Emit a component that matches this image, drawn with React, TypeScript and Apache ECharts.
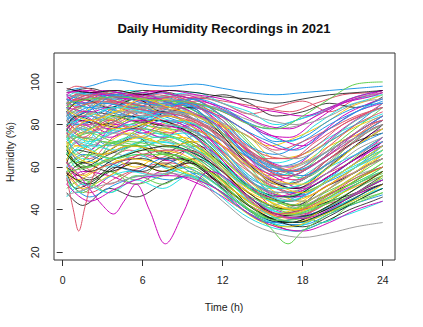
import React, { useEffect, useRef } from "react";
import * as echarts from "echarts";

const HOURS_A = [0.3, 2, 4, 6, 8, 10, 12, 14, 16, 18, 20, 22, 24];
const HOURS_B = [0.3, 1, 3, 5, 7, 9, 11, 13, 15, 17, 19, 21, 23, 24];
const HOURS_C = [0.3, 1.5, 3.5, 5.5, 7.5, 9.5, 11.5, 13.5, 15.5, 17.5, 19.5, 21.5, 23.2, 24];
const X_TICKS = [0, 6, 12, 18, 24];
const Y_TICKS = [20, 40, 60, 80, 100];
const PALETTE = ["#000000", "#DF536B", "#61D04F", "#2297E6", "#28E2E5", "#CD0BBC", "#F5C710", "#9E9E9E"];

const DAYS_A = [
  [92, 96, 90, 94, 88, 93, 90, 85, 88, 91, 86, 92, 95],
  [85, 78, 88, 84, 91, 86, 80, 70, 62, 66, 74, 80, 85],
  [70, 55, 66, 72, 68, 75, 70, 58, 45, 42, 50, 60, 66],
  [88, 93, 95, 91, 94, 89, 84, 72, 60, 55, 62, 73, 80],
  [62, 50, 58, 66, 63, 70, 64, 52, 40, 38, 46, 52, 58],
  [95, 97, 94, 96, 95, 92, 94, 90, 84, 86, 90, 88, 93],
  [78, 84, 80, 86, 83, 78, 68, 55, 50, 47, 55, 64, 70],
  [82, 72, 85, 90, 87, 85, 79, 66, 58, 62, 70, 75, 82],
  [58, 48, 55, 60, 62, 58, 52, 44, 36, 34, 40, 46, 52],
  [90, 88, 92, 87, 85, 88, 76, 64, 56, 60, 72, 82, 88],
  [74, 80, 77, 82, 78, 74, 60, 48, 40, 42, 48, 56, 60],
  [66, 60, 72, 70, 74, 68, 62, 50, 44, 40, 44, 52, 57],
  [93, 90, 95, 93, 91, 90, 86, 80, 74, 70, 78, 86, 90],
  [80, 86, 84, 81, 86, 82, 74, 62, 52, 54, 64, 72, 76],
  [54, 46, 52, 56, 54, 57, 50, 40, 34, 33, 38, 43, 47],
  [87, 92, 86, 90, 92, 86, 80, 74, 64, 66, 72, 79, 84],
  [72, 64, 75, 78, 76, 80, 72, 58, 50, 46, 52, 58, 64],
  [96, 94, 96, 92, 94, 95, 90, 86, 80, 83, 88, 92, 94],
  [68, 74, 70, 76, 72, 68, 58, 46, 38, 36, 42, 50, 56],
  [84, 90, 93, 88, 90, 86, 75, 60, 50, 52, 60, 70, 78],
  [76, 68, 80, 76, 82, 76, 70, 62, 55, 50, 56, 64, 72],
  [60, 54, 62, 64, 60, 64, 56, 46, 38, 40, 44, 48, 54],
  [91, 95, 92, 95, 90, 88, 82, 70, 66, 72, 80, 86, 91],
  [79, 85, 82, 88, 84, 80, 70, 58, 48, 44, 50, 58, 68],
  [86, 80, 88, 84, 88, 82, 76, 68, 60, 56, 64, 74, 82],
  [64, 70, 68, 72, 70, 66, 56, 44, 36, 34, 40, 46, 52],
  [94, 92, 90, 93, 92, 90, 87, 82, 78, 80, 84, 90, 92],
  [73, 78, 84, 80, 78, 76, 66, 54, 46, 48, 54, 62, 68],
  [88, 86, 90, 94, 90, 85, 78, 64, 54, 58, 66, 76, 84],
  [57, 52, 60, 58, 64, 62, 54, 42, 35, 32, 37, 44, 50],
  [82, 88, 85, 83, 86, 84, 76, 66, 60, 56, 62, 70, 76],
  [69, 62, 70, 74, 70, 72, 64, 52, 42, 40, 46, 54, 60],
  [90, 93, 96, 92, 88, 91, 84, 76, 68, 72, 78, 84, 88],
  [77, 72, 78, 84, 80, 76, 62, 50, 44, 46, 54, 60, 66],
  [85, 90, 88, 90, 87, 82, 72, 58, 48, 50, 58, 68, 74],
  [61, 66, 64, 68, 66, 62, 52, 42, 35, 36, 42, 48, 55],
  [95, 96, 93, 95, 96, 94, 92, 88, 86, 84, 88, 93, 96],
  [74, 82, 78, 80, 84, 78, 70, 60, 52, 48, 54, 62, 70],
  [83, 76, 82, 88, 86, 84, 78, 68, 60, 62, 68, 74, 80],
  [66, 58, 64, 68, 70, 66, 58, 46, 38, 37, 42, 50, 58],
  [89, 94, 91, 89, 93, 90, 82, 68, 58, 60, 70, 80, 86],
  [71, 76, 72, 78, 75, 70, 60, 50, 44, 42, 46, 54, 62],
  [92, 88, 94, 90, 89, 92, 88, 80, 72, 74, 82, 88, 90],
  [80, 84, 88, 86, 82, 80, 68, 56, 50, 52, 60, 66, 72],
  [52, 44, 50, 55, 56, 54, 48, 38, 32, 30, 34, 40, 44],
  [87, 82, 86, 92, 88, 84, 76, 62, 54, 52, 60, 70, 78],
  [75, 70, 76, 74, 80, 76, 66, 54, 46, 44, 50, 58, 64],
  [97, 95, 96, 94, 96, 95, 93, 92, 90, 92, 94, 95, 96],
];

const DAYS_B = [
  [90, 84, 92, 88, 93, 90, 86, 74, 62, 56, 62, 72, 80, 84],
  [76, 70, 80, 84, 80, 82, 74, 60, 48, 42, 48, 56, 64, 68],
  [64, 56, 62, 68, 64, 68, 60, 50, 40, 36, 40, 48, 54, 58],
  [93, 95, 92, 96, 93, 90, 88, 84, 76, 72, 80, 88, 92, 94],
  [82, 86, 84, 80, 86, 82, 76, 62, 52, 50, 56, 66, 74, 78],
  [70, 60, 72, 70, 76, 72, 66, 56, 46, 40, 44, 52, 60, 64],
  [88, 92, 95, 90, 88, 92, 84, 72, 64, 60, 68, 78, 86, 88],
  [58, 50, 56, 62, 60, 64, 56, 46, 38, 34, 38, 44, 50, 52],
  [84, 78, 86, 90, 86, 84, 80, 70, 60, 58, 64, 72, 80, 82],
  [74, 80, 76, 82, 78, 74, 64, 52, 44, 40, 46, 54, 62, 66],
  [96, 98, 95, 94, 96, 93, 92, 90, 88, 86, 90, 94, 95, 96],
  [66, 72, 70, 74, 72, 70, 62, 50, 42, 38, 42, 50, 56, 60],
  [86, 90, 88, 86, 91, 88, 80, 66, 56, 52, 58, 68, 78, 82],
  [78, 66, 76, 80, 82, 78, 70, 58, 50, 46, 52, 60, 70, 74],
  [92, 88, 94, 92, 90, 89, 86, 80, 72, 68, 74, 84, 90, 92],
  [62, 68, 66, 70, 68, 64, 56, 44, 36, 34, 38, 44, 52, 56],
  [80, 84, 88, 84, 82, 80, 72, 60, 50, 48, 54, 62, 70, 74],
  [72, 62, 70, 76, 72, 74, 66, 54, 46, 44, 48, 56, 64, 68],
  [89, 92, 90, 93, 88, 86, 82, 72, 64, 64, 70, 80, 86, 88],
  [56, 48, 54, 58, 56, 60, 54, 44, 36, 32, 36, 42, 48, 50],
  [84, 88, 82, 86, 88, 84, 76, 64, 54, 52, 58, 66, 74, 80],
  [68, 74, 72, 70, 74, 70, 62, 50, 42, 40, 46, 52, 58, 62],
  [94, 90, 96, 94, 92, 94, 90, 84, 76, 74, 82, 90, 94, 96],
  [77, 82, 80, 84, 80, 78, 70, 56, 46, 44, 50, 58, 66, 70],
  [86, 80, 84, 90, 86, 82, 76, 68, 62, 58, 62, 70, 78, 82],
  [60, 54, 60, 64, 62, 58, 52, 42, 34, 32, 36, 42, 48, 52],
  [90, 94, 92, 90, 94, 91, 85, 74, 66, 64, 72, 80, 86, 90],
  [73, 78, 76, 80, 76, 72, 64, 54, 48, 46, 52, 58, 64, 68],
  [82, 74, 84, 86, 84, 86, 78, 66, 56, 52, 58, 66, 74, 78],
  [67, 62, 70, 72, 70, 68, 60, 48, 40, 38, 44, 50, 56, 60],
  [94, 96, 94, 92, 95, 93, 90, 86, 80, 78, 84, 90, 93, 95],
  [79, 84, 80, 78, 82, 78, 68, 56, 48, 46, 52, 60, 68, 72],
  [88, 82, 90, 88, 86, 90, 82, 70, 60, 56, 62, 72, 80, 84],
  [63, 70, 66, 70, 68, 66, 58, 48, 40, 38, 42, 48, 54, 58],
  [85, 88, 91, 88, 86, 84, 78, 66, 58, 56, 62, 72, 80, 82],
  [75, 68, 74, 78, 74, 76, 68, 56, 48, 44, 50, 58, 66, 70],
];

const DAYS_C = [
  [60, 52, 58, 54, 62, 56, 50, 42, 36, 38, 34, 42, 48, 50],
  [84, 90, 82, 88, 84, 90, 82, 70, 58, 54, 60, 68, 76, 78],
  [48, 42, 50, 46, 52, 56, 50, 40, 34, 30, 34, 40, 44, 46],
  [72, 78, 70, 76, 82, 74, 62, 48, 42, 46, 52, 58, 66, 70],
  [92, 86, 94, 88, 92, 86, 80, 76, 70, 74, 80, 88, 92, 94],
  [55, 60, 52, 58, 56, 62, 54, 44, 38, 36, 42, 46, 52, 54],
  [78, 70, 84, 78, 86, 80, 68, 56, 50, 54, 62, 70, 78, 80],
  [66, 74, 68, 64, 70, 66, 56, 46, 40, 42, 48, 56, 62, 66],
  [88, 94, 90, 94, 88, 92, 86, 74, 62, 58, 66, 76, 84, 88],
  [52, 58, 56, 52, 58, 54, 48, 40, 34, 36, 40, 46, 50, 52],
  [70, 62, 68, 74, 66, 72, 64, 52, 46, 42, 50, 56, 62, 64],
  [94, 92, 96, 92, 95, 90, 88, 82, 78, 82, 86, 92, 95, 96],
  [62, 56, 64, 60, 66, 60, 52, 44, 38, 40, 44, 52, 58, 60],
  [80, 86, 80, 84, 78, 82, 70, 60, 52, 48, 56, 62, 70, 72],
  [58, 64, 60, 66, 60, 56, 50, 40, 34, 32, 38, 44, 48, 50],
  [86, 78, 88, 82, 90, 84, 76, 64, 56, 60, 66, 74, 82, 84],
  [50, 54, 48, 56, 52, 58, 50, 42, 36, 34, 38, 42, 46, 48],
  [76, 82, 76, 80, 86, 80, 72, 62, 54, 50, 56, 64, 70, 74],
  [68, 60, 66, 70, 64, 68, 60, 50, 42, 40, 46, 52, 58, 60],
  [90, 95, 92, 88, 93, 88, 80, 68, 60, 62, 70, 78, 86, 90],
  [57, 50, 56, 62, 58, 64, 56, 46, 38, 34, 40, 46, 52, 56],
  [82, 76, 80, 86, 82, 78, 74, 66, 58, 54, 62, 70, 78, 80],
  [64, 70, 64, 68, 72, 66, 58, 48, 40, 38, 44, 50, 56, 58],
  [96, 94, 92, 95, 93, 94, 91, 86, 82, 80, 86, 92, 94, 95],
  [54, 48, 58, 52, 56, 60, 52, 42, 36, 38, 42, 48, 54, 56],
  [74, 80, 74, 78, 74, 80, 70, 56, 48, 46, 52, 60, 68, 70],
  [86, 92, 88, 92, 86, 88, 78, 64, 54, 50, 58, 68, 76, 80],
  [60, 66, 62, 58, 64, 58, 50, 40, 34, 36, 40, 46, 52, 54],
  [70, 76, 80, 74, 78, 72, 62, 50, 44, 40, 46, 54, 62, 66],
  [80, 74, 82, 78, 84, 82, 76, 68, 62, 58, 64, 72, 80, 82],
  [46, 52, 48, 54, 50, 56, 48, 38, 32, 30, 34, 38, 42, 44],
  [88, 84, 90, 86, 90, 86, 82, 76, 68, 64, 70, 80, 86, 88],
  [66, 60, 64, 70, 66, 62, 56, 48, 42, 38, 42, 50, 56, 58],
  [78, 84, 78, 82, 80, 76, 66, 54, 46, 48, 54, 62, 68, 72],
  [56, 62, 58, 62, 58, 62, 54, 44, 36, 34, 38, 44, 50, 52],
  [92, 90, 94, 92, 90, 92, 86, 78, 72, 68, 76, 84, 90, 92],
];

const PINK_DIP_HOURS = [0.3, 0.8, 1.2, 1.7, 2.5, 4, 6, 8, 10, 12, 14, 16, 18, 20, 22, 24];
const PINK_DIP_VALUES = [55, 40, 30, 42, 58, 62, 66, 68, 67, 58, 45, 38, 40, 47, 55, 60];
const MAGENTA_DIP_HOURS = [0.3, 1, 2, 3, 3.8, 4.6, 5.5, 6.5, 7.7, 9, 10, 11, 12, 14, 16, 18, 20, 22, 24];
const MAGENTA_DIP_VALUES = [62, 58, 50, 42, 38, 44, 52, 40, 24, 38, 52, 58, 56, 46, 38, 36, 40, 48, 54];
const GREEN_DIP_HOURS = [0.3, 2, 4, 6, 8, 10, 12, 14, 15.5, 16.9, 18, 20, 22, 24];
const GREEN_DIP_VALUES = [58, 60, 64, 66, 66, 62, 52, 40, 32, 24, 30, 38, 44, 48];
const GREEN_TOP_VALUES = [90, 92, 93, 92, 91, 90, 86, 80, 78, 84, 92, 99, 100];
const GRAY_LOW_VALUES = [47, 50, 53, 56, 57, 54, 44, 34, 29, 27, 29, 32, 34];
const BLUE_TOP_VALUES = [96, 98, 101, 99, 98, 99, 97, 95, 94, 95, 96, 97, 98];

export default function App() {
  const ref = useRef<HTMLDivElement>(null);
  useEffect(() => {
    if (!ref.current) return;
    const chart = echarts.init(ref.current, undefined, { renderer: "svg" });

    const curves: { x: number[]; y: number[]; color?: string }[] = [];
    curves.push({ x: HOURS_A, y: BLUE_TOP_VALUES, color: "#2297E6" });
    const n = Math.max(DAYS_A.length, DAYS_B.length, DAYS_C.length);
    for (let i = 0; i < n; i++) {
      if (i < DAYS_A.length) curves.push({ x: HOURS_A, y: DAYS_A[i] });
      if (i < DAYS_C.length) curves.push({ x: HOURS_C, y: DAYS_C[i] });
      if (i < DAYS_B.length) curves.push({ x: HOURS_B, y: DAYS_B[i] });
    }
    curves.push({ x: PINK_DIP_HOURS, y: PINK_DIP_VALUES, color: "#DF536B" });
    curves.push({ x: MAGENTA_DIP_HOURS, y: MAGENTA_DIP_VALUES, color: "#CD0BBC" });
    curves.push({ x: GREEN_DIP_HOURS, y: GREEN_DIP_VALUES, color: "#61D04F" });
    curves.push({ x: HOURS_A, y: GREEN_TOP_VALUES, color: "#61D04F" });
    curves.push({ x: HOURS_A, y: GRAY_LOW_VALUES, color: "#9E9E9E" });

    const series = curves.map((c, idx) => {
      const color = c.color ?? PALETTE[idx % PALETTE.length];
      return {
        type: "line",
        data: c.x.map((h, i) => [h, c.y[i]]),
        smooth: 0.35,
        symbol: "none",
        lineStyle: { width: 1, color, opacity: color === "#000000" ? 0.75 : 1 },
        silent: true,
      };
    });

    const font = "Liberation Sans, Arial, Helvetica, sans-serif";
    chart.setOption({
      animation: false,
      grid: {
        left: 54,
        right: 28,
        top: 53,
        bottom: 67,
        show: true,
        borderColor: "#333",
        borderWidth: 1,
        backgroundColor: "transparent",
      },
      xAxis: {
        type: "value",
        min: -0.65,
        max: 24.92,
        axisLine: { show: false },
        splitLine: { show: false },
        axisTick: { show: true, customValues: X_TICKS, length: 6, lineStyle: { color: "#333" } },
        axisLabel: { customValues: X_TICKS, margin: 14, fontSize: 10.5, color: "#222", fontFamily: font },
      },
      yAxis: {
        type: "value",
        min: 16.4,
        max: 113.6,
        axisLine: { show: false },
        splitLine: { show: false },
        axisTick: { show: true, customValues: Y_TICKS, length: 6, lineStyle: { color: "#333" } },
        axisLabel: { customValues: Y_TICKS, rotate: 90, margin: 14, fontSize: 10.5, color: "#222", fontFamily: font },
      },
      graphic: [
        {
          type: "text",
          x: 224,
          y: 28,
          style: {
            text: "Daily Humidity Recordings in 2021",
            font: `bold 13px ${font}`,
            fill: "#111",
            textAlign: "center",
            textVerticalAlign: "middle",
          },
        },
        {
          type: "text",
          x: 224,
          y: 307,
          style: {
            text: "Time (h)",
            font: `10.5px ${font}`,
            fill: "#222",
            textAlign: "center",
            textVerticalAlign: "middle",
          },
        },
        {
          type: "text",
          x: 10,
          y: 152,
          rotation: Math.PI / 2,
          style: {
            text: "Humidity (%)",
            font: `10.5px ${font}`,
            fill: "#222",
            textAlign: "center",
            textVerticalAlign: "middle",
          },
        },
      ],
      series,
    });
    return () => chart.dispose();
  }, []);
  return <div ref={ref} style={{ width: 423, height: 327, position: "absolute", left: 0, top: 0 }} />;
}
